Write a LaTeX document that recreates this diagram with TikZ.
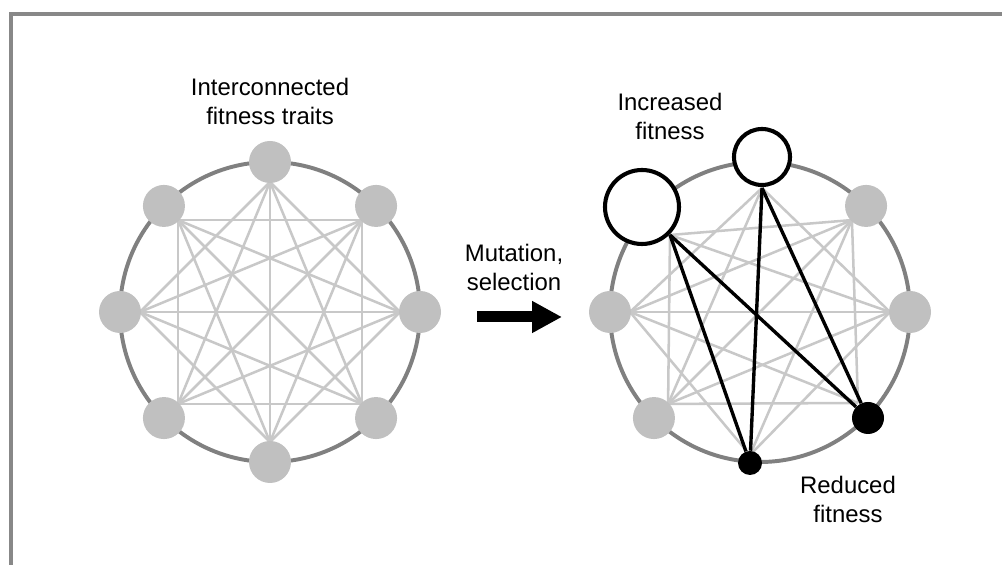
\documentclass[tikz,border=0pt]{standalone}
\usepackage{fontspec}
\setmainfont{Liberation Sans}
\usetikzlibrary{arrows.meta, calc}
\definecolor{ringcolor}{RGB}{128,128,128}
\definecolor{traitcolor}{RGB}{192,192,192}
\definecolor{linkcolor}{RGB}{200,200,200}
\definecolor{framecolor}{RGB}{136,136,136}

\begin{document}
\begin{tikzpicture}[
    trait/.style={circle, fill=traitcolor, minimum size=1.05cm, inner sep=0pt},
    gain/.style={circle, draw=black, fill=white, line width=2.9pt, inner sep=0pt},
    loss/.style={circle, fill=black, inner sep=0pt},
    link/.style={linkcolor, line width=1.8pt},
    strong/.style={black, line width=2.4pt},
    ring/.style={ringcolor, line width=2.8pt},
    txt/.style={font=\fontsize{17}{20.6}\selectfont, align=center}
]
    \useasboundingbox (0,0) rectangle (25.05,14.125);

    % Cadre
    \draw[framecolor, line width=2.4pt] (0.275,0) |- (25.05,13.775);

    % Réseau de gauche
    \coordinate (lc) at (6.75,6.325);
    \draw[ring] (lc) circle (3.75);
    \foreach \k in {0,...,7}
        \coordinate (la\k) at ($(lc)+(90+45*\k:3.25)$);
    \foreach \i/\j in {0/2,0/3,0/4,0/5,0/6,1/3,1/4,1/5,1/6,1/7,2/4,2/5,2/6,2/7,3/5,3/6,3/7,4/6,4/7,5/7}
        \draw[link] (la\i) -- (la\j);
    \foreach \k in {0,...,7}
        \node[trait] (l\k) at ($(lc)+(90+45*\k:3.75)$) {};
    \node[txt] (title) at (6.75,11.59) {Interconnected\\fitness traits};

    % Flèche
    \node[txt] (mutlabel) at (12.85,7.45) {Mutation,\\selection};
    \coordinate (arrowstart) at (11.925,6.2);
    \coordinate (arrowend) at (14.05,6.2);
    \draw[-{Triangle[length=0.75cm, width=0.75cm]}, line width=0.275cm] (arrowstart) -- (arrowend);

    % Réseau de droite
    \coordinate (rc) at (19,6.325);
    \draw[ring] (rc) circle (3.75);
    \coordinate (ra0) at (19.05,9.425);
    \coordinate (ra1) at (16.75,8.25);
    \coordinate (ra4) at (18.75,2.75);
    \coordinate (ra5) at (21.45,4.05);
    \foreach \k in {2,3,6,7}
        \coordinate (ra\k) at ($(rc)+(90+45*\k:3.25)$);
    \foreach \i/\j in {0/2,0/3,0/6,1/3,1/6,1/7,2/4,2/5,2/6,2/7,3/5,3/6,3/7,4/6,4/7,5/7}
        \draw[link] (ra\i) -- (ra\j);
    \foreach \k in {2,3,6,7}
        \node[trait] (r\k) at ($(rc)+(90+45*\k:3.75)$) {};
    \node[gain, minimum size=1.4cm] (r0) at (19.05,10.2) {};
    \node[gain, minimum size=1.85cm] (r1) at (16.05,8.95) {};
    \node[loss, minimum size=0.6cm] (r4) at (18.75,2.55) {};
    \node[loss, minimum size=0.8cm] (r5) at (21.7,3.675) {};

    % Liens modifiés
    \foreach \i in {0,1}
        \foreach \j in {4,5}
            \draw[strong] (ra\i) -- (r\j);

    \node[txt] (incrlabel) at (16.75,11.225) {Increased\\fitness};
    \node[txt] (redlabel) at (21.2,1.65) {Reduced\\fitness};
\end{tikzpicture}
\end{document}
